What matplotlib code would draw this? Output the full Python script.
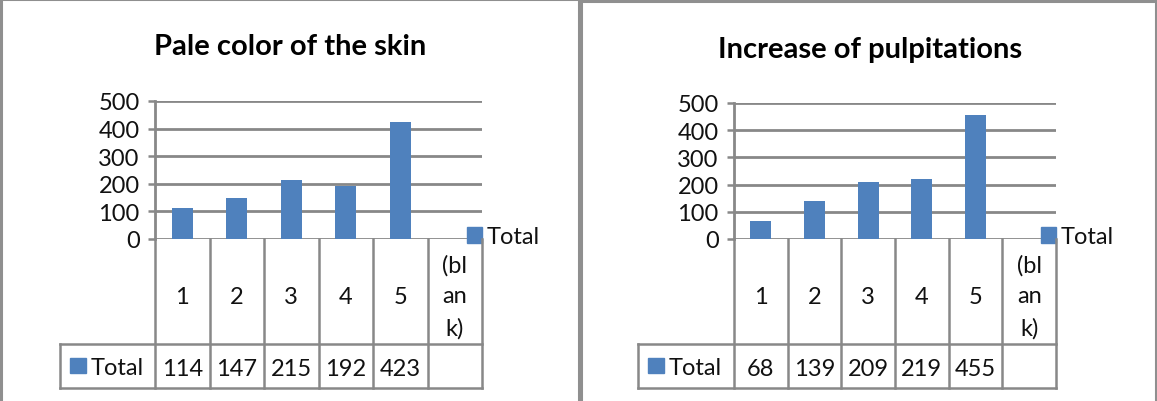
import matplotlib
matplotlib.use("Agg")
import matplotlib.pyplot as plt
from matplotlib.patches import Rectangle
from matplotlib.lines import Line2D

plt.rcParams["font.family"] = ["Lato", "DejaVu Sans"]

# Data
categories = ["1", "2", "3", "4", "5", "(bl\nan\nk)"]
series_name = "Total"
pale_skin = [114, 147, 215, 192, 423, None]
palpitations = [68, 139, 209, 219, 455, None]
titles = ["Pale color of the skin", "Increase of pulpitations"]
yticks = [0, 100, 200, 300, 400, 500]

W, H = 1157, 402
BAR = "#4F81BD"
GRID = "#888888"
TXT = "#111111"
FS = 17

fig = plt.figure(figsize=(W / 100, H / 100), dpi=100)
fig.patch.set_facecolor("white")


def fx(x):
    return x / W


def fy(y):
    return 1 - y / H


def frame(x0, y0, x1, y1):
    fig.patches.append(Rectangle((fx(x0), fy(y1)), fx(x1) - fx(x0), fy(y0) - fy(y1),
                                 transform=fig.transFigure, fill=False,
                                 edgecolor="#8F8F8F", linewidth=2.2))


def fline(xs, ys, lw=1.8):
    fig.lines.append(Line2D([fx(v) for v in xs], [fy(v) for v in ys],
                            transform=fig.transFigure, color=GRID, linewidth=lw))


def panel(title, values, ax_left, ax_right, ax_top, table_left, title_x, title_y):
    ax_bottom = 240
    ax = fig.add_axes([fx(ax_left), fy(ax_bottom), fx(ax_right) - fx(ax_left),
                       fy(ax_top) - fy(ax_bottom)])
    ax.set_xlim(-0.5, len(categories) - 0.5)
    ax.set_ylim(0, 500)
    xs = list(range(len(categories)))
    heights = [v if v is not None else 0 for v in values]
    ax.bar(xs, heights, width=0.39, color=BAR, zorder=3)
    ax.set_yticks(yticks)
    ax.set_yticklabels([str(t) for t in yticks], fontsize=FS, color=TXT)
    ax.set_xticks([])
    ax.tick_params(axis="y", length=5, width=1.8, color=GRID, pad=6)
    ax.yaxis.grid(True, color=GRID, linewidth=2.0, zorder=0)
    ax.set_axisbelow(True)
    for s in ["top", "right", "bottom"]:
        ax.spines[s].set_visible(False)
    ax.spines["left"].set_color(GRID)
    ax.spines["left"].set_linewidth(2.0)
    ax.patch.set_alpha(0)

    # data table under the plot
    step = (ax_right - ax_left) / len(categories)
    row1, row2 = 345, 389
    for i in range(len(categories) + 1):
        xx = ax_left + i * step
        fline([xx, xx], [ax_bottom, row2])
    fline([table_left, table_left], [row1, row2])
    fline([table_left, ax_right], [row1, row1])
    fline([table_left, ax_right], [row2, row2])
    for i, (c, v) in enumerate(zip(categories, values)):
        cx = ax_left + (i + 0.5) * step
        fig.text(fx(cx), fy(297), c, ha="center", va="center", fontsize=FS,
                 color=TXT, linespacing=1.6)
        if v is not None:
            fig.text(fx(cx), fy(370), str(v), ha="center", va="center",
                     fontsize=FS, color=TXT)
    # table row header with legend key
    fig.patches.append(Rectangle((fx(table_left + 10), fy(374)), fx(16), fy(0) - fy(15),
                                 transform=fig.transFigure, color=BAR))
    fig.text(fx(table_left + 31), fy(369), series_name, ha="left", va="center",
             fontsize=FS, color=TXT)
    # legend to the right
    fig.patches.append(Rectangle((fx(ax_right - 15), fy(244)), fx(15), fy(0) - fy(16),
                                 transform=fig.transFigure, color=BAR))
    fig.text(fx(ax_right + 5), fy(238), series_name, ha="left", va="center",
             fontsize=FS, color=TXT)
    fig.text(fx(title_x), fy(title_y), title, ha="center", va="center",
             fontsize=21, fontweight="bold", color="black")


frame(1, 0, 579, 404)
frame(581, 2, 1156, 404)

panel(titles[0], pale_skin, 155, 482, 102, 60, 290, 47)
panel(titles[1], palpitations, 734, 1056, 104, 638, 870, 50)

fig.savefig("out.png", dpi=100, facecolor="white")
